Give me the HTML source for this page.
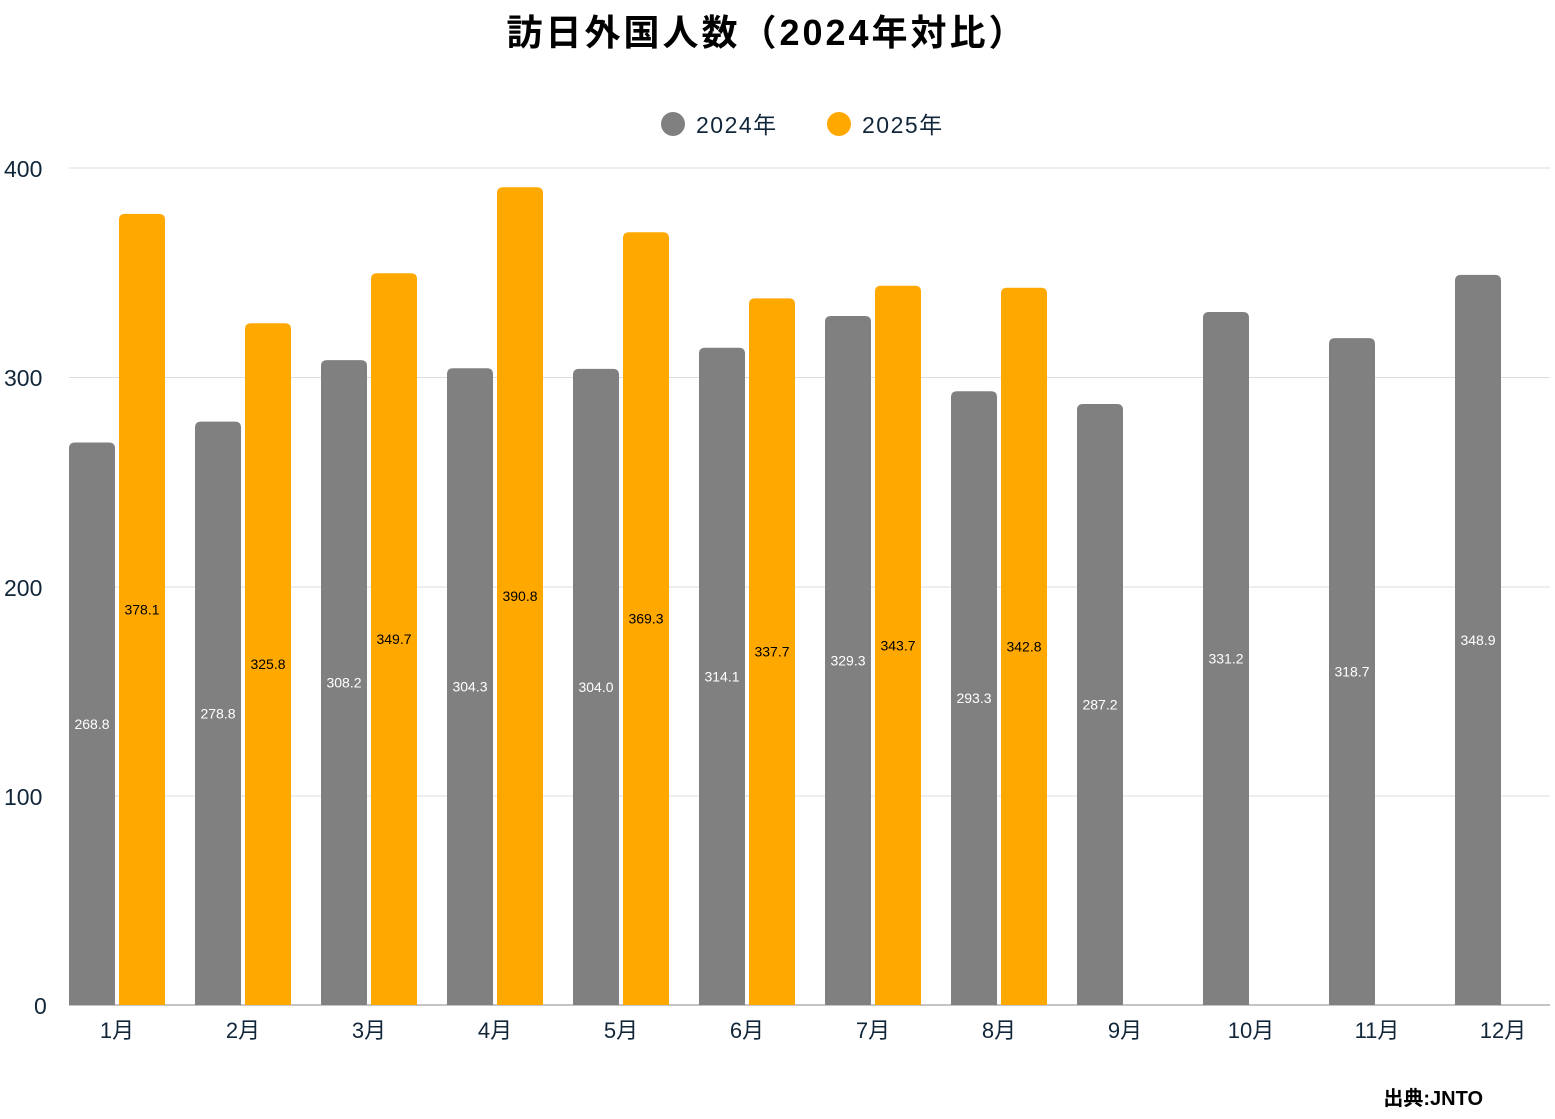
<!DOCTYPE html>
<html><head><meta charset="utf-8"><style>
body{margin:0;background:#fff}
svg text{font-family:"Liberation Sans","Noto Sans CJK JP",sans-serif}
</style></head><body>
<svg width="1555" height="1114" viewBox="0 0 1555 1114">
<text x="767" y="45" text-anchor="middle" font-size="36" font-weight="bold" fill="#000" letter-spacing="3">訪日外国人数（2024年対比）</text>
<circle cx="673" cy="124" r="12" fill="#808080"/>
<text x="696" y="133" font-size="23" fill="#12263a" letter-spacing="1.5">2024年</text>
<circle cx="839" cy="124" r="12" fill="#ffa800"/>
<text x="862" y="133" font-size="23" fill="#12263a" letter-spacing="1.5">2025年</text>
<g stroke="#dcdcdc" stroke-width="1">
<line x1="69" x2="1550" y1="168" y2="168"/><line x1="69" x2="1550" y1="377.5" y2="377.5"/>
<line x1="69" x2="1550" y1="587" y2="587"/><line x1="69" x2="1550" y1="796" y2="796"/>
</g>
<line x1="69" x2="1550" y1="1005" y2="1005" stroke="#b0b0b0" stroke-width="1.5"/>
<g font-size="23" fill="#12263a" text-anchor="start">
<text x="4" y="177">400</text><text x="4" y="386">300</text><text x="4" y="596">200</text><text x="4" y="805">100</text><text x="34" y="1014">0</text>
</g>
<g id="bars"></g>
</svg>
<script>
var a=[268.8,278.8,308.2,304.3,304.0,314.1,329.3,293.3,287.2,331.2,318.7,348.9];
var b=[378.1,325.8,349.7,390.8,369.3,337.7,343.7,342.8];
var g=document.getElementById('bars'),s='',k=837/400;
function bar(x,v,c,tc){var h=v*k,y=1005-h;
s+='<path d="M'+x+' 1005V'+(y+6)+'Q'+x+' '+y+' '+(x+6)+' '+y+'H'+(x+40)+'Q'+(x+46)+' '+y+' '+(x+46)+' '+(y+6)+'V1005Z" fill="'+c+'"/>';
s+='<text x="'+(x+23)+'" y="'+(y+h/2+5)+'" text-anchor="middle" font-size="14" fill="'+tc+'">'+v.toFixed(1)+'</text>';}
for(var i=0;i<12;i++){var x=69+126*i;bar(x,a[i],'#808080','#fff');if(i<8)bar(x+50,b[i],'#ffa800','#000');
s+='<text x="'+(x+48)+'" y="1038" text-anchor="middle" font-size="22" fill="#12263a">'+(i+1)+'月</text>';}
s+='<text x="1483" y="1105" text-anchor="end" font-size="20" font-weight="bold" fill="#000">出典:JNTO</text>';
g.innerHTML=s;
</script>
</body></html>
